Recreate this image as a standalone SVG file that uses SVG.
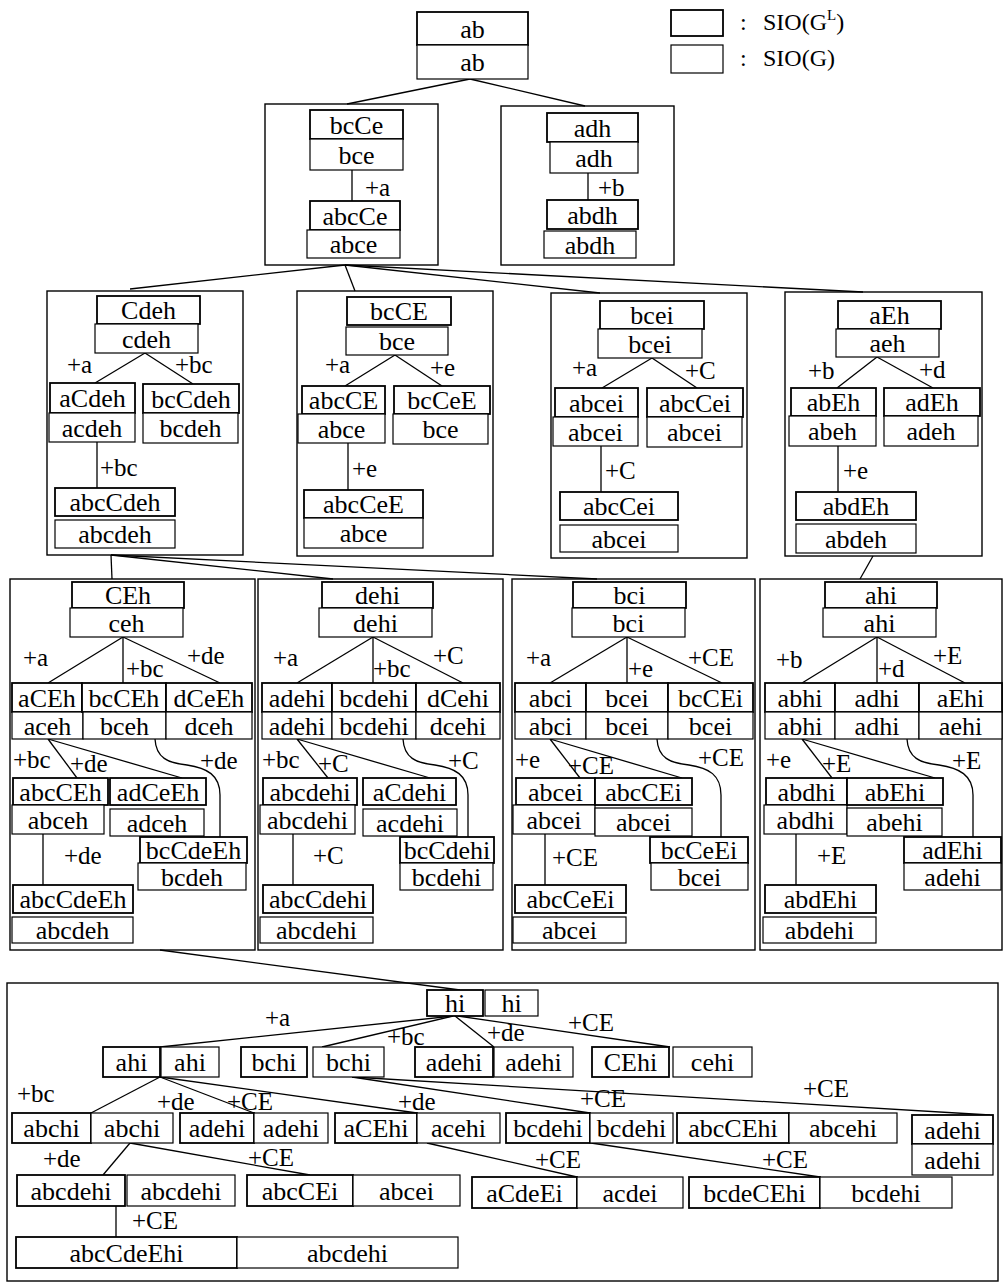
<svg xmlns="http://www.w3.org/2000/svg" width="1004" height="1284" viewBox="0 0 1004 1284">
<style>
.u{fill:#fff;stroke:#000;stroke-width:1.8}
.l{fill:#fff;stroke:#000;stroke-width:1.2}
.c{fill:none;stroke:#000;stroke-width:1.4}
.e{fill:none;stroke:#000;stroke-width:1.3}
text{font-family:"Liberation Serif","Times New Roman",serif;fill:#000}
.t{font-size:26px;text-anchor:middle}
.lb{font-size:25px}
.lg{font-size:24px}
</style>
<rect width="1004" height="1284" fill="#fff"/>

<g id="containers">
<rect class="c" x="265" y="104" width="173" height="161"/>
<rect class="c" x="501" y="106" width="173" height="159"/>
<rect class="c" x="47" y="291" width="196" height="264"/>
<rect class="c" x="297" y="291" width="196" height="265"/>
<rect class="c" x="551" y="293" width="196" height="265"/>
<rect class="c" x="785" y="292" width="197" height="264"/>
<rect class="c" x="10" y="579" width="245" height="371"/>
<rect class="c" x="258" y="579" width="245" height="371"/>
<rect class="c" x="512" y="579" width="243" height="371"/>
<rect class="c" x="760" y="579" width="242" height="371"/>
<rect class="c" x="7" y="983" width="991" height="298"/>
</g>

<g id="connectors">
<line class="e" x1="470" y1="79" x2="347" y2="104"/>
<line class="e" x1="470" y1="79" x2="585" y2="106"/>
<line class="e" x1="352" y1="170" x2="352" y2="201"/>
<line class="e" x1="588" y1="173" x2="588" y2="200"/>
<line class="e" x1="345" y1="265" x2="130" y2="289"/>
<line class="e" x1="345" y1="265" x2="355" y2="291"/>
<line class="e" x1="345" y1="265" x2="600" y2="293"/>
<line class="e" x1="345" y1="265" x2="863" y2="292"/>
<line class="e" x1="145" y1="353" x2="95" y2="383"/>
<line class="e" x1="145" y1="353" x2="193" y2="384"/>
<line class="e" x1="97" y1="442" x2="97" y2="488"/>
<line class="e" x1="395" y1="355" x2="345" y2="386"/>
<line class="e" x1="395" y1="355" x2="442" y2="386"/>
<line class="e" x1="348" y1="443" x2="348" y2="490"/>
<line class="e" x1="652" y1="358" x2="602" y2="388"/>
<line class="e" x1="652" y1="358" x2="697" y2="388"/>
<line class="e" x1="601" y1="446" x2="601" y2="492"/>
<line class="e" x1="877" y1="357" x2="837" y2="388"/>
<line class="e" x1="877" y1="357" x2="933" y2="388"/>
<line class="e" x1="838" y1="446" x2="838" y2="492"/>
<line class="e" x1="111" y1="555" x2="112" y2="579"/>
<line class="e" x1="111" y1="555" x2="333" y2="579"/>
<line class="e" x1="111" y1="555" x2="597" y2="579"/>
<line class="e" x1="873" y1="556" x2="860" y2="579"/>
<line class="e" x1="123" y1="637" x2="48" y2="683"/>
<line class="e" x1="123" y1="637" x2="123" y2="683"/>
<line class="e" x1="123" y1="637" x2="220" y2="683"/>
<line class="e" x1="48" y1="739" x2="77" y2="778"/>
<line class="e" x1="48" y1="739" x2="182" y2="778"/>
<path class="e" d="M155,739 C156,758 168,763 187,765 C207,768 220,775 220,795 L220,837"/>
<line class="e" x1="43" y1="834" x2="43" y2="885"/>
<line class="e" x1="373" y1="637" x2="297" y2="683"/>
<line class="e" x1="373" y1="637" x2="373" y2="683"/>
<line class="e" x1="373" y1="637" x2="463" y2="683"/>
<line class="e" x1="297" y1="739" x2="328" y2="778"/>
<line class="e" x1="297" y1="739" x2="430" y2="778"/>
<path class="e" d="M403,739 C404,758 416,763 435,765 C455,768 468,775 468,795 L468,837"/>
<line class="e" x1="293" y1="834" x2="293" y2="885"/>
<line class="e" x1="627" y1="637" x2="550" y2="683"/>
<line class="e" x1="627" y1="637" x2="627" y2="683"/>
<line class="e" x1="627" y1="637" x2="722" y2="683"/>
<line class="e" x1="550" y1="739" x2="580" y2="778"/>
<line class="e" x1="550" y1="739" x2="682" y2="778"/>
<path class="e" d="M657,739 C658,758 670,763 689,765 C709,768 721,775 721,795 L721,837"/>
<line class="e" x1="545" y1="834" x2="545" y2="885"/>
<line class="e" x1="877" y1="637" x2="802" y2="683"/>
<line class="e" x1="877" y1="637" x2="877" y2="683"/>
<line class="e" x1="877" y1="637" x2="965" y2="683"/>
<line class="e" x1="802" y1="739" x2="832" y2="778"/>
<line class="e" x1="802" y1="739" x2="935" y2="778"/>
<path class="e" d="M907,739 C908,758 920,763 939,765 C959,768 973,775 973,795 L973,837"/>
<line class="e" x1="796" y1="834" x2="796" y2="885"/>
<line class="e" x1="160" y1="950" x2="460" y2="990"/>
<line class="e" x1="453" y1="1016" x2="160" y2="1047"/>
<line class="e" x1="453" y1="1016" x2="322" y2="1047"/>
<line class="e" x1="455" y1="1016" x2="494" y2="1047"/>
<line class="e" x1="458" y1="1016" x2="670" y2="1047"/>
<line class="e" x1="160" y1="1077" x2="91" y2="1113"/>
<line class="e" x1="160" y1="1077" x2="254" y2="1113"/>
<line class="e" x1="160" y1="1077" x2="417" y2="1113"/>
<line class="e" x1="352" y1="1077" x2="590" y2="1113"/>
<line class="e" x1="352" y1="1077" x2="990" y2="1115"/>
<line class="e" x1="130" y1="1143" x2="103" y2="1175"/>
<line class="e" x1="130" y1="1143" x2="310" y2="1175"/>
<line class="e" x1="427" y1="1143" x2="577" y2="1177"/>
<line class="e" x1="591" y1="1143" x2="820" y2="1177"/>
<line class="e" x1="116" y1="1206" x2="116" y2="1237"/>
</g>

<g id="edge-labels" class="lb">
<text x="365" y="196">+a</text>
<text x="598" y="196">+b</text>
<text x="67" y="373">+a</text>
<text x="175" y="373">+bc</text>
<text x="100" y="476">+bc</text>
<text x="325" y="373">+a</text>
<text x="430" y="376">+e</text>
<text x="352" y="477">+e</text>
<text x="572" y="376">+a</text>
<text x="685" y="379">+C</text>
<text x="605" y="479">+C</text>
<text x="808" y="379">+b</text>
<text x="919" y="378">+d</text>
<text x="843" y="479">+e</text>
<text x="23" y="666">+a</text>
<text x="126" y="677">+bc</text>
<text x="187" y="664">+de</text>
<text x="13" y="768">+bc</text>
<text x="70" y="772">+de</text>
<text x="200" y="769">+de</text>
<text x="64" y="864">+de</text>
<text x="273" y="666">+a</text>
<text x="373" y="677">+bc</text>
<text x="433" y="664">+C</text>
<text x="262" y="768">+bc</text>
<text x="318" y="772">+C</text>
<text x="448" y="769">+C</text>
<text x="313" y="864">+C</text>
<text x="526" y="666">+a</text>
<text x="628" y="677">+e</text>
<text x="688" y="666">+CE</text>
<text x="515" y="768">+e</text>
<text x="568" y="774">+CE</text>
<text x="698" y="766">+CE</text>
<text x="552" y="866">+CE</text>
<text x="776" y="668">+b</text>
<text x="878" y="677">+d</text>
<text x="933" y="664">+E</text>
<text x="766" y="768">+e</text>
<text x="822" y="772">+E</text>
<text x="952" y="769">+E</text>
<text x="817" y="864">+E</text>
<text x="265" y="1026">+a</text>
<text x="387" y="1045">+bc</text>
<text x="487" y="1041">+de</text>
<text x="568" y="1031">+CE</text>
<text x="17" y="1102">+bc</text>
<text x="157" y="1110">+de</text>
<text x="227" y="1110">+CE</text>
<text x="398" y="1110">+de</text>
<text x="580" y="1107">+CE</text>
<text x="803" y="1097">+CE</text>
<text x="43" y="1167">+de</text>
<text x="248" y="1166">+CE</text>
<text x="535" y="1168">+CE</text>
<text x="762" y="1168">+CE</text>
<text x="132" y="1229">+CE</text>
</g>

<g id="legend">
<rect class="u" x="671" y="10" width="52" height="26"/>
<rect class="l" x="671" y="45" width="52" height="28"/>
<text class="lg" x="740" y="30">:</text>
<text class="lg" x="763" y="30">SIO(G<tspan font-size="15" dy="-10">L</tspan><tspan dy="10">)</tspan></text>
<text class="lg" x="740" y="66">:</text>
<text class="lg" x="763" y="66">SIO(G)</text>
</g>

<g id="n-ab"><rect class="u" x="417" y="12" width="111" height="33"/><text class="t" x="472.5" y="37.5">ab</text><rect class="l" x="417" y="45" width="111" height="34"/><text class="t" x="472.5" y="71">ab</text></g>

<g id="n-bcCe"><rect class="u" x="310" y="110" width="93" height="29"/><text class="t" x="356.5" y="133.5">bcCe</text><rect class="l" x="310" y="139" width="93" height="31"/><text class="t" x="356.5" y="163.5">bce</text></g>
<g id="n-abcCe"><rect class="u" x="310" y="201" width="90" height="29"/><text class="t" x="355" y="224.5">abcCe</text><rect class="l" x="307" y="230" width="93" height="28"/><text class="t" x="353.5" y="253">abce</text></g>
<g id="n-adh"><rect class="u" x="547" y="113" width="91" height="29"/><text class="t" x="592.5" y="136.5">adh</text><rect class="l" x="550" y="142" width="88" height="31"/><text class="t" x="594" y="166.5">adh</text></g>
<g id="n-abdh"><rect class="u" x="547" y="200" width="91" height="29"/><text class="t" x="592.5" y="223.5">abdh</text><rect class="l" x="544" y="231" width="92" height="27"/><text class="t" x="590" y="253.5">abdh</text></g>

<g id="n-Cdeh"><rect class="u" x="97" y="296" width="103" height="28"/><text class="t" x="148.5" y="319">Cdeh</text><rect class="l" x="95" y="324" width="103" height="29"/><text class="t" x="146.5" y="347.5">cdeh</text></g>
<g id="n-aCdeh"><rect class="u" x="50" y="383" width="85" height="30"/><text class="t" x="92.5" y="407">aCdeh</text><rect class="l" x="49" y="413" width="86" height="29"/><text class="t" x="92" y="436.5">acdeh</text></g>
<g id="n-bcCdeh"><rect class="u" x="143" y="384" width="96" height="29"/><text class="t" x="191" y="407.5">bcCdeh</text><rect class="l" x="143" y="413" width="95" height="30"/><text class="t" x="190.5" y="437">bcdeh</text></g>
<g id="n-abcCdeh"><rect class="u" x="55" y="488" width="120" height="28"/><text class="t" x="115" y="511">abcCdeh</text><rect class="l" x="55" y="520" width="120" height="28"/><text class="t" x="115" y="543">abcdeh</text></g>

<g id="n-bcCE"><rect class="u" x="347" y="297" width="104" height="28"/><text class="t" x="399" y="320">bcCE</text><rect class="l" x="346" y="327" width="102" height="28"/><text class="t" x="397" y="350">bce</text></g>
<g id="n-abcCE"><rect class="u" x="302" y="386" width="83" height="28"/><text class="t" x="343.5" y="409">abcCE</text><rect class="l" x="298" y="414" width="87" height="29"/><text class="t" x="341.5" y="437.5">abce</text></g>
<g id="n-bcCeE"><rect class="u" x="394" y="386" width="96" height="28"/><text class="t" x="442" y="409">bcCeE</text><rect class="l" x="393" y="414" width="95" height="30"/><text class="t" x="440.5" y="438">bce</text></g>
<g id="n-abcCeE"><rect class="u" x="304" y="490" width="119" height="28"/><text class="t" x="363.5" y="513">abcCeE</text><rect class="l" x="304" y="518" width="119" height="30"/><text class="t" x="363.5" y="542">abce</text></g>

<g id="n-bcei"><rect class="u" x="600" y="301" width="104" height="28"/><text class="t" x="652" y="324">bcei</text><rect class="l" x="598" y="329" width="104" height="29"/><text class="t" x="650" y="352.5">bcei</text></g>
<g id="n-abcei"><rect class="u" x="555" y="388" width="83" height="29"/><text class="t" x="596.5" y="411.5">abcei</text><rect class="l" x="553" y="417" width="85" height="29"/><text class="t" x="595.5" y="440.5">abcei</text></g>
<g id="n-abcCei"><rect class="u" x="647" y="388" width="96" height="29"/><text class="t" x="695" y="411.5">abcCei</text><rect class="l" x="647" y="417" width="95" height="30"/><text class="t" x="694.5" y="441">abcei</text></g>
<g id="n-abcCei2"><rect class="u" x="560" y="492" width="118" height="28"/><text class="t" x="619" y="515">abcCei</text><rect class="l" x="560" y="525" width="118" height="27"/><text class="t" x="619" y="547.5">abcei</text></g>

<g id="n-aEh"><rect class="u" x="838" y="301" width="103" height="28"/><text class="t" x="889.5" y="324">aEh</text><rect class="l" x="836" y="329" width="103" height="28"/><text class="t" x="887.5" y="352">aeh</text></g>
<g id="n-abEh"><rect class="u" x="791" y="388" width="85" height="28"/><text class="t" x="833.5" y="411">abEh</text><rect class="l" x="789" y="416" width="87" height="30"/><text class="t" x="832.5" y="440">abeh</text></g>
<g id="n-adEh"><rect class="u" x="884" y="388" width="96" height="28"/><text class="t" x="932" y="411">adEh</text><rect class="l" x="884" y="416" width="94" height="30"/><text class="t" x="931" y="440">adeh</text></g>
<g id="n-abdEh"><rect class="u" x="796" y="492" width="120" height="28"/><text class="t" x="856" y="515">abdEh</text><rect class="l" x="796" y="524" width="120" height="29"/><text class="t" x="856" y="547.5">abdeh</text></g>

<g id="n-CEh"><rect class="u" x="72" y="582" width="112" height="26"/><text class="t" x="128" y="604">CEh</text><rect class="l" x="70" y="608" width="113" height="29"/><text class="t" x="126.5" y="631.5">ceh</text></g>
<g id="n-aCEh"><rect class="u" x="12" y="683" width="70" height="29"/><text class="t" x="47" y="706.5">aCEh</text><rect class="l" x="12" y="712" width="71" height="27"/><text class="t" x="47.5" y="734.5">aceh</text></g>
<g id="n-bcCEh"><rect class="u" x="82" y="683" width="84" height="29"/><text class="t" x="124" y="706.5">bcCEh</text><rect class="l" x="83" y="712" width="83" height="27"/><text class="t" x="124.5" y="734.5">bceh</text></g>
<g id="n-dCeEh"><rect class="u" x="166" y="683" width="86" height="29"/><text class="t" x="209" y="706.5">dCeEh</text><rect class="l" x="166" y="712" width="86" height="27"/><text class="t" x="209" y="734.5">dceh</text></g>
<g id="n-abcCEh"><rect class="u" x="13" y="778" width="95" height="27"/><text class="t" x="60.5" y="800.5">abcCEh</text><rect class="l" x="12" y="805" width="92" height="29"/><text class="t" x="58" y="828.5">abceh</text></g>
<g id="n-adCeEh"><rect class="u" x="110" y="778" width="96" height="27"/><text class="t" x="158" y="800.5">adCeEh</text><rect class="l" x="110" y="809" width="94" height="27"/><text class="t" x="157" y="831.5">adceh</text></g>
<g id="n-bcCdeEh"><rect class="u" x="140" y="837" width="107" height="26"/><text class="t" x="193.5" y="858.5">bcCdeEh</text><rect class="l" x="138" y="863" width="108" height="27"/><text class="t" x="192" y="886">bcdeh</text></g>
<g id="n-abcCdeEh"><rect class="u" x="13" y="885" width="120" height="28"/><text class="t" x="73" y="908">abcCdeEh</text><rect class="l" x="12" y="917" width="121" height="26"/><text class="t" x="72.5" y="939">abcdeh</text></g>

<g id="n-dehi"><rect class="u" x="322" y="582" width="111" height="26"/><text class="t" x="377.5" y="604">dehi</text><rect class="l" x="319" y="608" width="113" height="29"/><text class="t" x="375.5" y="631.5">dehi</text></g>
<g id="n-adehi3"><rect class="u" x="262" y="683" width="70" height="29"/><text class="t" x="297" y="706.5">adehi</text><rect class="l" x="262" y="712" width="70" height="27"/><text class="t" x="297" y="734.5">adehi</text></g>
<g id="n-bcdehi3"><rect class="u" x="332" y="683" width="84" height="29"/><text class="t" x="374" y="706.5">bcdehi</text><rect class="l" x="332" y="712" width="84" height="27"/><text class="t" x="374" y="734.5">bcdehi</text></g>
<g id="n-dCehi"><rect class="u" x="416" y="683" width="84" height="29"/><text class="t" x="458" y="706.5">dCehi</text><rect class="l" x="416" y="712" width="84" height="27"/><text class="t" x="458" y="734.5">dcehi</text></g>
<g id="n-abcdehi3"><rect class="u" x="263" y="778" width="94" height="27"/><text class="t" x="310" y="800.5">abcdehi</text><rect class="l" x="260" y="805" width="95" height="29"/><text class="t" x="307.5" y="828.5">abcdehi</text></g>
<g id="n-aCdehi"><rect class="u" x="363" y="778" width="93" height="27"/><text class="t" x="409.5" y="800.5">aCdehi</text><rect class="l" x="363" y="809" width="94" height="27"/><text class="t" x="410" y="831.5">acdehi</text></g>
<g id="n-bcCdehi"><rect class="u" x="400" y="837" width="94" height="26"/><text class="t" x="447" y="858.5">bcCdehi</text><rect class="l" x="400" y="863" width="93" height="27"/><text class="t" x="446.5" y="886">bcdehi</text></g>
<g id="n-abcCdehi"><rect class="u" x="263" y="885" width="110" height="28"/><text class="t" x="318" y="908">abcCdehi</text><rect class="l" x="260" y="917" width="113" height="26"/><text class="t" x="316.5" y="939">abcdehi</text></g>

<g id="n-bci"><rect class="u" x="573" y="582" width="113" height="26"/><text class="t" x="629.5" y="604">bci</text><rect class="l" x="572" y="608" width="113" height="29"/><text class="t" x="628.5" y="631.5">bci</text></g>
<g id="n-abci"><rect class="u" x="515" y="683" width="71" height="29"/><text class="t" x="550.5" y="706.5">abci</text><rect class="l" x="515" y="712" width="71" height="27"/><text class="t" x="550.5" y="734.5">abci</text></g>
<g id="n-bcei3"><rect class="u" x="586" y="683" width="82" height="29"/><text class="t" x="627" y="706.5">bcei</text><rect class="l" x="586" y="712" width="82" height="27"/><text class="t" x="627" y="734.5">bcei</text></g>
<g id="n-bcCEi"><rect class="u" x="668" y="683" width="85" height="29"/><text class="t" x="710.5" y="706.5">bcCEi</text><rect class="l" x="668" y="712" width="85" height="27"/><text class="t" x="710.5" y="734.5">bcei</text></g>
<g id="n-abcei3"><rect class="u" x="516" y="778" width="79" height="27"/><text class="t" x="555.5" y="800.5">abcei</text><rect class="l" x="513" y="805" width="82" height="29"/><text class="t" x="554" y="828.5">abcei</text></g>
<g id="n-abcCEi3"><rect class="u" x="595" y="778" width="97" height="27"/><text class="t" x="643.5" y="800.5">abcCEi</text><rect class="l" x="595" y="808" width="97" height="28"/><text class="t" x="643.5" y="831">abcei</text></g>
<g id="n-bcCeEi"><rect class="u" x="650" y="837" width="98" height="26"/><text class="t" x="699" y="858.5">bcCeEi</text><rect class="l" x="651" y="863" width="97" height="27"/><text class="t" x="699.5" y="886">bcei</text></g>
<g id="n-abcCeEi"><rect class="u" x="515" y="885" width="111" height="28"/><text class="t" x="570.5" y="908">abcCeEi</text><rect class="l" x="513" y="917" width="113" height="26"/><text class="t" x="569.5" y="939">abcei</text></g>

<g id="n-ahi3"><rect class="u" x="825" y="582" width="112" height="26"/><text class="t" x="881" y="604">ahi</text><rect class="l" x="823" y="608" width="113" height="29"/><text class="t" x="879.5" y="631.5">ahi</text></g>
<g id="n-abhi"><rect class="u" x="765" y="683" width="70" height="29"/><text class="t" x="800" y="706.5">abhi</text><rect class="l" x="765" y="712" width="70" height="27"/><text class="t" x="800" y="734.5">abhi</text></g>
<g id="n-adhi"><rect class="u" x="835" y="683" width="84" height="29"/><text class="t" x="877" y="706.5">adhi</text><rect class="l" x="835" y="712" width="84" height="27"/><text class="t" x="877" y="734.5">adhi</text></g>
<g id="n-aEhi"><rect class="u" x="919" y="683" width="83" height="29"/><text class="t" x="960.5" y="706.5">aEhi</text><rect class="l" x="919" y="712" width="83" height="27"/><text class="t" x="960.5" y="734.5">aehi</text></g>
<g id="n-abdhi"><rect class="u" x="766" y="778" width="81" height="27"/><text class="t" x="806.5" y="800.5">abdhi</text><rect class="l" x="764" y="805" width="83" height="29"/><text class="t" x="805.5" y="828.5">abdhi</text></g>
<g id="n-abEhi"><rect class="u" x="847" y="778" width="96" height="27"/><text class="t" x="895" y="800.5">abEhi</text><rect class="l" x="847" y="808" width="95" height="28"/><text class="t" x="894.5" y="831">abehi</text></g>
<g id="n-adEhi"><rect class="u" x="904" y="837" width="97" height="26"/><text class="t" x="952.5" y="858.5">adEhi</text><rect class="l" x="904" y="863" width="97" height="27"/><text class="t" x="952.5" y="886">adehi</text></g>
<g id="n-abdEhi"><rect class="u" x="765" y="885" width="111" height="28"/><text class="t" x="820.5" y="908">abdEhi</text><rect class="l" x="763" y="917" width="113" height="26"/><text class="t" x="819.5" y="939">abdehi</text></g>

<g id="n-hi"><rect class="u" x="427" y="990" width="56" height="26"/><text class="t" x="455" y="1012">hi</text><rect class="l" x="485" y="990" width="53" height="26"/><text class="t" x="511.5" y="1012">hi</text></g>
<g id="n-ahi-b"><rect class="u" x="103" y="1047" width="57" height="30"/><text class="t" x="131.5" y="1071">ahi</text><rect class="l" x="161" y="1047" width="58" height="30"/><text class="t" x="190" y="1071">ahi</text></g>
<g id="n-bchi"><rect class="u" x="241" y="1047" width="66" height="30"/><text class="t" x="274" y="1071">bchi</text><rect class="l" x="313" y="1047" width="71" height="30"/><text class="t" x="348.5" y="1071">bchi</text></g>
<g id="n-adehi-b1"><rect class="u" x="415" y="1047" width="78" height="30"/><text class="t" x="454" y="1071">adehi</text><rect class="l" x="494" y="1047" width="79" height="30"/><text class="t" x="533.5" y="1071">adehi</text></g>
<g id="n-CEhi"><rect class="u" x="592" y="1047" width="77" height="30"/><text class="t" x="630.5" y="1071">CEhi</text><rect class="l" x="673" y="1047" width="79" height="30"/><text class="t" x="712.5" y="1071">cehi</text></g>
<g id="n-abchi"><rect class="u" x="12" y="1113" width="79" height="30"/><text class="t" x="51.5" y="1137">abchi</text><rect class="l" x="91" y="1113" width="82" height="30"/><text class="t" x="132" y="1137">abchi</text></g>
<g id="n-adehi-b2"><rect class="u" x="180" y="1113" width="74" height="30"/><text class="t" x="217" y="1137">adehi</text><rect class="l" x="254" y="1113" width="74" height="30"/><text class="t" x="291" y="1137">adehi</text></g>
<g id="n-aCEhi"><rect class="u" x="335" y="1113" width="82" height="30"/><text class="t" x="376" y="1137">aCEhi</text><rect class="l" x="417" y="1113" width="83" height="30"/><text class="t" x="458.5" y="1137">acehi</text></g>
<g id="n-bcdehi-b"><rect class="u" x="506" y="1113" width="84" height="30"/><text class="t" x="548" y="1137">bcdehi</text><rect class="l" x="590" y="1113" width="83" height="30"/><text class="t" x="631.5" y="1137">bcdehi</text></g>
<g id="n-abcCEhi"><rect class="u" x="677" y="1113" width="112" height="30"/><text class="t" x="733" y="1137">abcCEhi</text><rect class="l" x="789" y="1113" width="108" height="30"/><text class="t" x="843" y="1137">abcehi</text></g>
<g id="n-adehi-b3"><rect class="u" x="912" y="1115" width="81" height="29"/><text class="t" x="952.5" y="1138.5">adehi</text><rect class="l" x="912" y="1144" width="81" height="31"/><text class="t" x="952.5" y="1168.5">adehi</text></g>
<g id="n-abcdehi-b"><rect class="u" x="17" y="1175" width="108" height="31"/><text class="t" x="71" y="1199.5">abcdehi</text><rect class="l" x="127" y="1175" width="108" height="31"/><text class="t" x="181" y="1199.5">abcdehi</text></g>
<g id="n-abcCEi-b"><rect class="u" x="247" y="1175" width="106" height="31"/><text class="t" x="300" y="1199.5">abcCEi</text><rect class="l" x="353" y="1175" width="107" height="31"/><text class="t" x="406.5" y="1199.5">abcei</text></g>
<g id="n-aCdeEi"><rect class="u" x="472" y="1177" width="105" height="31"/><text class="t" x="524.5" y="1201.5">aCdeEi</text><rect class="l" x="577" y="1177" width="106" height="31"/><text class="t" x="630" y="1201.5">acdei</text></g>
<g id="n-bcdeCEhi"><rect class="u" x="689" y="1177" width="131" height="31"/><text class="t" x="754.5" y="1201.5">bcdeCEhi</text><rect class="l" x="820" y="1177" width="132" height="31"/><text class="t" x="886" y="1201.5">bcdehi</text></g>
<g id="n-abcCdeEhi"><rect class="u" x="16" y="1237" width="221" height="31"/><text class="t" x="126.5" y="1261.5">abcCdeEhi</text><rect class="l" x="237" y="1237" width="221" height="31"/><text class="t" x="347.5" y="1261.5">abcdehi</text></g>
</svg>
